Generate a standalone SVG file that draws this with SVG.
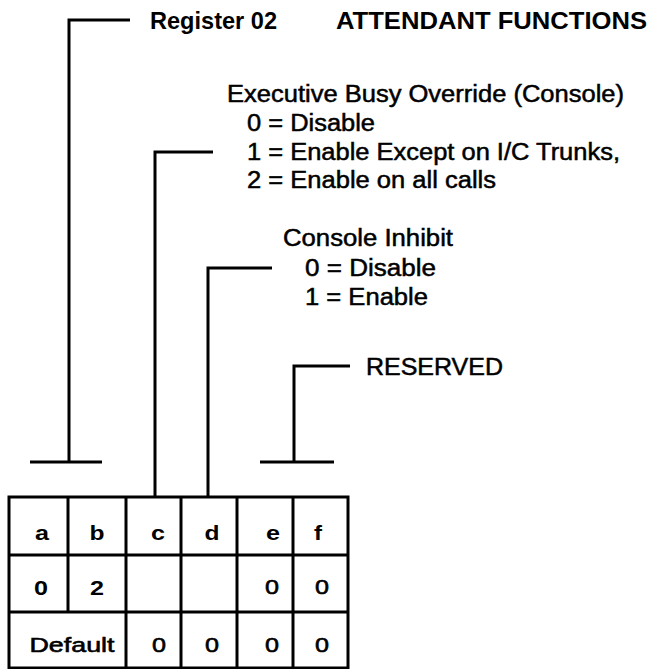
<svg xmlns="http://www.w3.org/2000/svg" width="651" height="669" viewBox="0 0 651 669">
<style>
text{font-family:"Liberation Sans",Arial,sans-serif;fill:#000}
.h{font-weight:bold;font-size:24px}
.t{font-size:23.5px;stroke:#000;stroke-width:0.5}
.c{font-size:21px;font-weight:bold;text-anchor:middle}
.n{font-size:21px;text-anchor:middle;stroke:#000;stroke-width:0.6}
.ln{stroke:#000;stroke-width:3;fill:none}
</style>
<rect width="651" height="669" fill="#fff"/>
<g id="connectors" class="ln">
<polyline points="130,20 69,20 69,462"/>
<line x1="30" y1="462" x2="102" y2="462"/>
<polyline points="213,152 155,152 155,497"/>
<polyline points="272,268 208,268 208,497"/>
<polyline points="350,366 294,366 294,462"/>
<line x1="260" y1="462" x2="334" y2="462"/>
</g>
<g id="register">
<text class="h" x="150" y="29" textLength="127" lengthAdjust="spacingAndGlyphs">Register 02</text>
<text class="h" x="336" y="29" textLength="311" lengthAdjust="spacingAndGlyphs">ATTENDANT FUNCTIONS</text>
</g>
<g id="exec">
<text class="t" x="227" y="102" textLength="397" lengthAdjust="spacingAndGlyphs">Executive Busy Override (Console)</text>
<text class="t" x="247" y="131" textLength="128" lengthAdjust="spacingAndGlyphs">0 = Disable</text>
<text class="t" x="247" y="160" textLength="373" lengthAdjust="spacingAndGlyphs">1 = Enable Except on I/C Trunks,</text>
<text class="t" x="247" y="188" textLength="249" lengthAdjust="spacingAndGlyphs">2 = Enable on all calls</text>
</g>
<g id="inhibit">
<text class="t" x="283" y="246" textLength="170" lengthAdjust="spacingAndGlyphs">Console Inhibit</text>
<text class="t" x="305" y="276" textLength="131" lengthAdjust="spacingAndGlyphs">0 = Disable</text>
<text class="t" x="305" y="305" textLength="123" lengthAdjust="spacingAndGlyphs">1 = Enable</text>
</g>
<g id="reserved">
<text class="t" x="366" y="375" textLength="137" lengthAdjust="spacingAndGlyphs">RESERVED</text>
</g>
<g id="table">
<rect x="9" y="497" width="339" height="171" class="ln"/>
<g class="ln">
<line x1="9" y1="555" x2="348" y2="555"/>
<line x1="9" y1="612" x2="348" y2="612"/>
<line x1="68" y1="497" x2="68" y2="612"/>
<line x1="126" y1="497" x2="126" y2="668"/>
<line x1="181" y1="497" x2="181" y2="668"/>
<line x1="237" y1="497" x2="237" y2="668"/>
<line x1="293" y1="497" x2="293" y2="668"/>
</g>
<text class="c" x="42" y="540" textLength="14" lengthAdjust="spacingAndGlyphs">a</text>
<text class="c" x="97" y="540" textLength="15" lengthAdjust="spacingAndGlyphs">b</text>
<text class="c" x="158" y="540" textLength="14" lengthAdjust="spacingAndGlyphs">c</text>
<text class="c" x="212" y="540" textLength="15" lengthAdjust="spacingAndGlyphs">d</text>
<text class="c" x="273" y="540" textLength="14" lengthAdjust="spacingAndGlyphs">e</text>
<text class="c" x="318" y="540" textLength="8" lengthAdjust="spacingAndGlyphs">f</text>
<text class="c" x="41" y="595" textLength="14" lengthAdjust="spacingAndGlyphs">0</text>
<text class="c" x="97" y="595" textLength="14" lengthAdjust="spacingAndGlyphs">2</text>
<text class="n" x="272" y="594" textLength="14" lengthAdjust="spacingAndGlyphs">0</text>
<text class="n" x="322" y="594" textLength="14" lengthAdjust="spacingAndGlyphs">0</text>
<text class="n" x="72" y="652" textLength="85" lengthAdjust="spacingAndGlyphs">Default</text>
<text class="n" x="159" y="652" textLength="14" lengthAdjust="spacingAndGlyphs">0</text>
<text class="n" x="212" y="652" textLength="14" lengthAdjust="spacingAndGlyphs">0</text>
<text class="n" x="272" y="652" textLength="14" lengthAdjust="spacingAndGlyphs">0</text>
<text class="n" x="322" y="652" textLength="14" lengthAdjust="spacingAndGlyphs">0</text>
</g>
</svg>
